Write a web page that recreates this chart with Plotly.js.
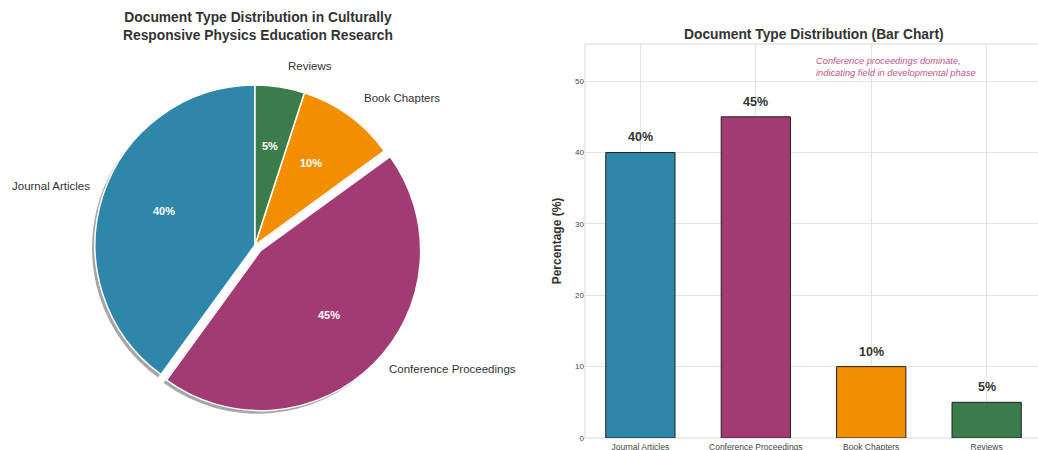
<!DOCTYPE html>
<html>
<head>
<meta charset="utf-8">
<script src="https://cdn.plot.ly/plotly-3.0.1.min.js"></script>
<style>html,body{margin:0;padding:0;background:#fff;}#chart{width:1038px;height:450px;}</style>
</head>
<body>
<div id="chart"></div>
<script>
const categories = ["Journal Articles", "Conference Proceedings", "Book Chapters", "Reviews"];
const percentages = [40, 45, 10, 5];
const colors = ["#2E86AB", "#A23B72", "#F18F01", "#3B7D4A"];
const pulls = [0, 0.05, 0, 0];
const pctLabels = ["40%", "45%", "10%", "5%"];

const FONT = "Liberation Sans, Arial, sans-serif";

const pieDomainX = [0.0838, 0.4075];
const pieDomainY = [0.0822, 0.8289];
const sx = 3 / 1038, sy = 3 / 450;
const ROT = -144;

const shadow = {
  type: "pie", values: percentages, labels: categories, sort: false,
  direction: "counterclockwise", rotation: ROT, pull: pulls,
  marker: {colors: categories.map(() => "rgba(0,0,0,0.35)"), line: {width: 0}},
  textinfo: "none", hoverinfo: "skip", showlegend: false,
  domain: {x: [pieDomainX[0] - sx, pieDomainX[1] - sx], y: [pieDomainY[0] - sy, pieDomainY[1] - sy]}
};

const pie = {
  type: "pie", values: percentages, labels: categories, sort: false,
  direction: "counterclockwise", rotation: ROT, pull: pulls,
  marker: {colors: colors, line: {color: "#ffffff", width: 1.5}},
  textinfo: "none",
  showlegend: false,
  domain: {x: pieDomainX, y: pieDomainY}
};

const bar = {
  type: "bar", x: categories, y: percentages,
  marker: {color: colors, line: {color: "#222222", width: 1}},
  width: 0.6, xaxis: "x", yaxis: "y", showlegend: false,
  hoverinfo: "x+y"
};

// pie outer labels (text only)
const pieLabelPos = [
  {x: 92, y: 186, anchor: "right"},
  {x: 387, y: 369, anchor: "left"},
  {x: 362, y: 98, anchor: "left"},
  {x: 286, y: 66, anchor: "left"}
];
const annotations = categories.map((c, i) => ({
  text: c, xref: "paper", yref: "paper",
  x: pieLabelPos[i].x / 1038, y: 1 - pieLabelPos[i].y / 450,
  xanchor: pieLabelPos[i].anchor, yanchor: "middle", showarrow: false,
  font: {family: FONT, size: 11.5, color: "#333333"}
}));

// pie percentage labels at 0.6 of the radius, from the cumulative shares
const cx = 255, cy = 241, R = 160, total = percentages.reduce((a, b) => a + b, 0);
let cum = 0;
percentages.forEach((v, i) => {
  const mid = (90 + 360 * (cum + v / 2) / total) * Math.PI / 180;
  cum += v;
  const r = 0.6 * R + pulls[i] * R;
  annotations.push({
    text: "<b>" + pctLabels[i] + "</b>", xref: "paper", yref: "paper",
    x: (cx + r * Math.cos(mid)) / 1038, y: 1 - (cy - r * Math.sin(mid)) / 450,
    xanchor: "center", yanchor: "middle", showarrow: false,
    font: {family: FONT, size: 11, color: "#ffffff"}
  });
});

// pie title
annotations.push({
  text: "<b>Document Type Distribution in Culturally<br>Responsive Physics Education Research</b>",
  xref: "paper", yref: "paper", x: 258 / 1038, y: 1 - 26 / 450,
  xanchor: "center", yanchor: "middle", showarrow: false,
  font: {family: FONT, size: 13.8, color: "#333333"}
});
// bar title
annotations.push({
  text: "<b>Document Type Distribution (Bar Chart)</b>",
  xref: "paper", yref: "paper", x: 814 / 1038, y: 1 - 34 / 450,
  xanchor: "center", yanchor: "middle", showarrow: false,
  font: {family: FONT, size: 13.8, color: "#333333"}
});
// bar value labels
categories.forEach((c, i) => {
  annotations.push({
    text: "<b>" + pctLabels[i] + "</b>", xref: "x", yref: "y",
    x: c, y: percentages[i], yanchor: "bottom", yshift: 6, showarrow: false,
    font: {family: FONT, size: 12.5, color: "#333333"}
  });
});
// insight note
annotations.push({
  text: "Conference proceedings dominate,<br>indicating field in developmental phase",
  xref: "x", yref: "y", x: 1.5, y: 50.2, xanchor: "left", yanchor: "bottom",
  align: "left", showarrow: false,
  font: {family: FONT, size: 9.3, color: "#C0568A", style: "italic"}
});

const layout = {
  width: 1038, height: 450,
  margin: {l: 0, r: 0, t: 0, b: 0},
  paper_bgcolor: "#ffffff", plot_bgcolor: "#ffffff",
  font: {family: FONT, color: "#333333"},
  xaxis: {
    domain: [585 / 1038, 1], range: [-0.48, 3.445], type: "category",
    showgrid: true, gridcolor: "#e3e3e3", gridwidth: 1,
    showline: false, zeroline: false, ticks: "",
    tickfont: {family: FONT, size: 8.5, color: "#444444"}, ticklabelstandoff: 2,
    fixedrange: true
  },
  yaxis: {
    domain: [1 - 438 / 450, 1 - 44 / 450], range: [0, 55.2],
    tickvals: [0, 10, 20, 30, 40, 50],
    showgrid: true, gridcolor: "#e3e3e3", gridwidth: 1,
    zeroline: false, showline: false, ticks: "",
    tickfont: {family: FONT, size: 8, color: "#444444"},
    title: {text: "<b>Percentage (%)</b>", font: {family: FONT, size: 12, color: "#333333"}, standoff: 10},
    fixedrange: true
  },
  shapes: [{
    type: "rect", xref: "paper", yref: "paper",
    x0: 585 / 1038, x1: 1.2, y0: 1 - 438 / 450, y1: 1 - 44 / 450,
    line: {color: "#d8d8d8", width: 1}, fillcolor: "rgba(0,0,0,0)", layer: "below"
  }],
  annotations: annotations
};

Plotly.newPlot("chart", [shadow, pie, bar], layout, {displayModeBar: false, staticPlot: true});
</script>
</body>
</html>
